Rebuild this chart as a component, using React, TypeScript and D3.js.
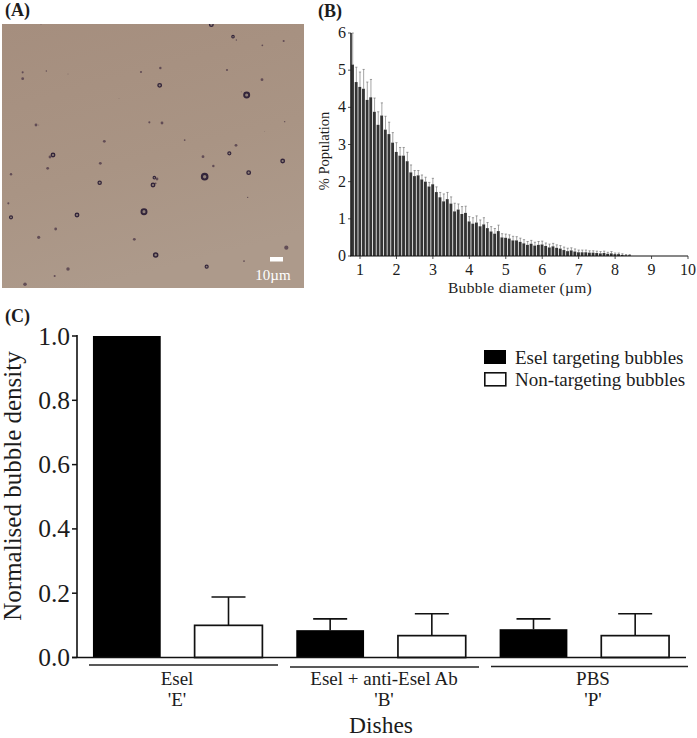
import React from "react";
import * as d3 from "d3";

// Panel A: bubbles in the micrograph, [x, y, radius, ring?] in image units (0-906 x 0-792)
const bubbleX = [628,693,703,781,845,117,62,62,133,198,417,475,473,675,780,734,718,351,102,110,442,480,848,788,548,307,702,682,603,842,153,144,295,137,27,634,740,608,457,465,453,293,461,19,737,27,225,426,161,110,397,853,461,726,614,198,158,69];
const bubbleY = [2,38,48,64,51,1,145,164,141,150,144,132,184,138,167,213,203,223,303,303,295,297,293,323,348,352,364,388,398,411,393,399,418,433,451,426,446,458,461,465,483,476,478,538,520,580,573,563,615,640,646,671,693,711,728,735,756,781];
const bubbleR = [7,5,2,2.5,3,1.5,3,4,2,1.5,3,3.5,7,3,4,10,1.5,1.2,4,1.5,3,4,2,1.2,2.5,4,4,6,4,7,7,4,4,4,3.5,3.5,7,11,5,4,7,6.5,2.5,3,2,6,7,10,4,4.5,4,6,8,2.5,6,5,3,5];
const bubbleRing = [1,1,0,0,0,0,0,0,0,0,0,0,1,0,0,1,0,0,0,0,0,0,0,0,0,0,0,1,0,1,1,0,0,0,0,0,1,1,1,0,1,1,0,0,0,1,1,1,0,0,0,0,1,0,1,0,0,0];

// Panel B: histogram, bins of 0.1 um starting at 0.75 um
const histDiameterStart = 0.75;
const histValues = [5.15,4.68,4.55,4.5,4.2,4.27,3.88,3.53,3.78,3.4,3.28,3.05,2.8,2.7,2.7,2.55,2.25,2.15,2.17,2.06,2.0,1.87,1.93,1.72,1.58,1.47,1.53,1.41,1.2,1.25,1.13,1.16,0.93,0.87,0.9,0.8,0.85,0.75,0.66,0.6,0.67,0.5,0.49,0.47,0.42,0.42,0.38,0.34,0.3,0.33,0.28,0.3,0.31,0.27,0.23,0.26,0.22,0.2,0.16,0.13,0.15,0.12,0.1,0.1,0.1,0.09,0.09,0.08,0.07,0.08,0.06,0.07,0.05,0.05,0.03,0.02,0.02];
const histErrors = [0.85,0.4,0.4,0.52,0.48,0.48,0.37,0.35,0.34,0.36,0.32,0.27,0.25,0.22,0.22,0.24,0.2,0.15,0.13,0.12,0.12,0.11,0.16,0.14,0.13,0.2,0.18,0.18,0.22,0.15,0.2,0.18,0.13,0.16,0.18,0.17,0.18,0.15,0.13,0.14,0.16,0.1,0.1,0.1,0.11,0.1,0.1,0.1,0.09,0.09,0.09,0.09,0.09,0.08,0.09,0.08,0.08,0.08,0.08,0.08,0.07,0.07,0.06,0.06,0.06,0.05,0.05,0.05,0.05,0.05,0.04,0.05,0.03,0.03,0.03,0.02,0.02];
const histXTicks = [1,2,3,4,5,6,7,8,9,10];
const histYTicks = [0,1,2,3,4,5,6];

// Panel C
const groups = ["Esel", "Esel + anti-Esel Ab", "PBS"];
const groupCodes = ["'E'", "'B'", "'P'"];
const targetingMeans = [1.0, 0.085, 0.088];
const targetingErrors = [0, 0.035, 0.032];
const nonTargetingMeans = [0.1, 0.068, 0.068];
const nonTargetingErrors = [0.088, 0.068, 0.068];
const densityTicks = [0, 0.2, 0.4, 0.6, 0.8, 1.0];
const legendLabels = ["Esel targeting bubbles", "Non-targeting bubbles"];

const FONT = "'Liberation Serif','Times New Roman',serif";
const INK = "#1c1c1c";

function PanelA() {
  const sx = d3.scaleLinear().domain([0, 906]).range([2, 304]);
  const sy = d3.scaleLinear().domain([0, 792]).range([24, 288]);
  return (
    <g>
      <defs>
        <linearGradient id="photo" x1="0" y1="0" x2="0.3" y2="1">
          <stop offset="0" stopColor="#a58e7e" />
          <stop offset="0.6" stopColor="#a99484" />
          <stop offset="1" stopColor="#ad9a8b" />
        </linearGradient>
        <clipPath id="photoClip"><rect x={2} y={24} width={302} height={264} /></clipPath>
      </defs>
      <rect x={2} y={24} width={302} height={264} fill="url(#photo)" />
      <g clipPath="url(#photoClip)">
        {bubbleX.map((x, i) => {
          const r = bubbleR[i] / 3 * 1.05;
          return bubbleRing[i] ? (
            <circle key={i} cx={sx(x)} cy={sy(bubbleY[i])} r={r * 0.72} fill="#8f7f78" stroke="#33253a" strokeWidth={Math.max(1.1, r * 0.55)} />
          ) : (
            <circle key={i} cx={sx(x)} cy={sy(bubbleY[i])} r={r} fill="#5a4550" opacity={r < 0.6 ? 0.5 : 0.9} />
          );
        })}
      </g>
      <rect x={270} y={257} width={13} height={4.5} fill="#fff" />
      <text x={273} y={280} textAnchor="middle" fontSize={15} fill="#fff" fontFamily={FONT}>10µm</text>
    </g>
  );
}

function PanelB() {
  const x = d3.scaleLinear().domain([1, 10]).range([360, 688]);
  const y = d3.scaleLinear().domain([0, 6]).range([256, 33]);
  const binW = x(1.1) - x(1);
  return (
    <g fontFamily={FONT} fill={INK}>
      {histValues.map((v, i) => {
        const d = histDiameterStart + i * 0.1;
        const cx = x(d) + binW / 2;
        return (
          <g key={i}>
            <line x1={cx} x2={cx} y1={y(v)} y2={y(v + histErrors[i])} stroke="#666" strokeWidth={0.6} />
            <line x1={cx - 1.1} x2={cx + 1.1} y1={y(v + histErrors[i])} y2={y(v + histErrors[i])} stroke="#666" strokeWidth={0.6} />
            <rect x={x(d) + 0.2} y={y(v)} width={binW - 0.8} height={y(0) - y(v)} fill="#333" />
          </g>
        );
      })}
      <line x1={351} x2={351} y1={33} y2={256} stroke="#222" strokeWidth={1.6} />
      <line x1={350} x2={688} y1={256} y2={256} stroke="#111" strokeWidth={1.2} />
      {histYTicks.map((t) => (
        <g key={t}>
          <line x1={348} x2={351} y1={y(t)} y2={y(t)} stroke="#222" strokeWidth={0.8} />
          <text x={346} y={y(t) + 5} textAnchor="end" fontSize={16}>{t}</text>
        </g>
      ))}
      {histXTicks.map((t) => (
        <g key={t}>
          <line x1={x(t)} x2={x(t)} y1={256} y2={259} stroke="#222" strokeWidth={0.8} />
          <text x={x(t)} y={275} textAnchor="middle" fontSize={16}>{t}</text>
        </g>
      ))}
      <text transform="translate(329,151) rotate(-90)" textAnchor="middle" fontSize={14.5}>% Population</text>
      <text x={520} y={293} textAnchor="middle" fontSize={15.5} letterSpacing={0.3}>Bubble diameter (µm)</text>
    </g>
  );
}

function PanelC() {
  const y = d3.scaleLinear().domain([0, 1]).range([657.5, 336]);
  const x = d3.scaleBand<number>().domain([0, 1, 2, 3, 4, 5]).range([93 - 17, 669 + 17]).paddingInner(1 / 3).paddingOuter(1 / 6);
  const underlines: [number, number, number][] = [[89, 278, 665], [290, 479, 667], [491, 688, 666.5]];
  const labelX = [177, 384, 593];
  return (
    <g fontFamily={FONT} fill={INK}>
      {groups.map((_, g) => {
        const xb = x(g * 2)!;
        const xw = x(g * 2 + 1)!;
        const w = x.bandwidth();
        const tb = targetingMeans[g] + targetingErrors[g];
        const tw = nonTargetingMeans[g] + nonTargetingErrors[g];
        return (
          <g key={g}>
            {targetingErrors[g] > 0 && (
              <g stroke="#111" strokeWidth={1.6}>
                <line x1={xb + w / 2} x2={xb + w / 2} y1={y(targetingMeans[g])} y2={y(tb)} />
                <line x1={xb + w / 2 - 17} x2={xb + w / 2 + 17} y1={y(tb)} y2={y(tb)} />
              </g>
            )}
            <rect x={xb} y={y(targetingMeans[g])} width={w} height={y(0) - y(targetingMeans[g])} fill="#000" />
            <g stroke="#111" strokeWidth={1.6}>
              <line x1={xw + w / 2} x2={xw + w / 2} y1={y(nonTargetingMeans[g])} y2={y(tw)} />
              <line x1={xw + w / 2 - 17} x2={xw + w / 2 + 17} y1={y(tw)} y2={y(tw)} />
            </g>
            <rect x={xw} y={y(nonTargetingMeans[g])} width={w} height={y(0) - y(nonTargetingMeans[g])} fill="#fff" stroke="#111" strokeWidth={1.7} />
          </g>
        );
      })}
      <line x1={77} x2={77} y1={335} y2={658} stroke="#111" strokeWidth={1.6} />
      <line x1={72} x2={686} y1={657.5} y2={657.5} stroke="#111" strokeWidth={1.6} />
      {densityTicks.map((t) => (
        <g key={t}>
          <line x1={72} x2={77} y1={y(t)} y2={y(t)} stroke="#111" strokeWidth={1.5} />
          <text x={70} y={y(t) + 8.5} textAnchor="end" fontSize={25.5}>{t.toFixed(1)}</text>
        </g>
      ))}
      <text transform="translate(21,486) rotate(-90)" textAnchor="middle" fontSize={25}>Normalised bubble density</text>
      {underlines.map(([a, b, yy], i) => (
        <g key={i}>
          <line x1={a} x2={b} y1={yy} y2={yy} stroke="#222" strokeWidth={1.4} />
          <text x={labelX[i]} y={685} textAnchor="middle" fontSize={19}>{groups[i]}</text>
          <text x={labelX[i]} y={706} textAnchor="middle" fontSize={19}>{groupCodes[i]}</text>
        </g>
      ))}
      <text x={381} y={733} textAnchor="middle" fontSize={23.5}>Dishes</text>
      <rect x={484} y={350} width={22} height={14} fill="#000" />
      <rect x={484.8} y={372.8} width={21} height={13} fill="#fff" stroke="#111" strokeWidth={1.6} />
      <text x={515} y={364} fontSize={19}>{legendLabels[0]}</text>
      <text x={515} y={386} fontSize={19}>{legendLabels[1]}</text>
    </g>
  );
}

export default function App() {
  return (
    <svg width={697} height={738} style={{ position: "absolute", left: 0, top: 0, display: "block" }}>
      <rect width={697} height={738} fill="#fff" />
      <PanelA />
      <PanelB />
      <PanelC />
      <g fontFamily={FONT} fontWeight="bold" fontSize={18} fill={INK}>
        <text x={5} y={16}>(A)</text>
        <text x={318} y={17}>(B)</text>
        <text x={5} y={322}>(C)</text>
      </g>
    </svg>
  );
}
